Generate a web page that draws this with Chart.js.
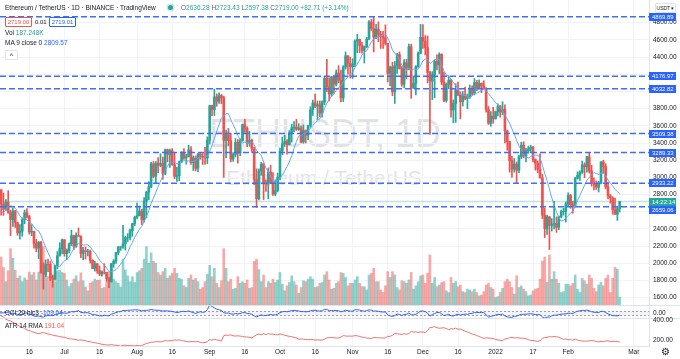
<!DOCTYPE html>
<html>
<head>
<meta charset="utf-8">
<title>ETHUSDT 1D</title>
<script src="https://cdn.jsdelivr.net/npm/chart.js@4.4.1/dist/chart.umd.min.js"></script>
<style>
  html, body { margin: 0; padding: 0; background: #fff; }
  #wrap { position: relative; width: 680px; height: 359px; overflow: hidden; font-family: "Liberation Sans", Arial, sans-serif; color: #131722; }
  #chart { position: absolute; left: 0; top: 0; z-index: 1; }
  .wm { position: absolute; z-index: 0; white-space: nowrap; color: rgba(120,123,134,0.22); line-height: 1; }
  #wm1 { left: 325px; top: 113px; font-size: 40px; transform: translateX(-50%) scaleX(0.9); }
  #wm2 { left: 324px; top: 167px; font-size: 21px; transform: translateX(-50%); }
  .lg { position: absolute; z-index: 2; white-space: nowrap; font-size: 6.5px; line-height: 8px; }
  .up { color: #26a69a; }
  .k { color: #5d606b; }
  .box { position: absolute; z-index: 2; height: 8px; line-height: 8px; font-size: 6px; text-align: center; border: 1px solid; border-radius: 1px; background: #fff; }
  .dot { position: absolute; z-index: 2; width: 5px; height: 5px; border-radius: 50%; background: #26a69a; box-shadow: 0 0 0 1.5px rgba(38,166,154,0.25); }
</style>
</head>
<body>
<div id="wrap">
  <div class="wm" id="wm1">ETHUSDT, 1D</div>
  <div class="wm" id="wm2">Ethereum / TetherUS</div>
  <canvas id="chart" width="680" height="359"></canvas>

  <div class="lg" style="left:5px;top:4px;">Ethereum / TetherUS · 1D · BINANCE · TradingView</div>
  <div class="dot" style="left:168px;top:5px;"></div>
  <div class="lg" style="left:181px;top:4px;"><span class="k">O</span><span class="up">2636.28</span> <span class="k">H</span><span class="up">2723.43</span> <span class="k">L</span><span class="up">2597.38</span> <span class="k">C</span><span class="up">2719.00 +82.71 (+3.14%)</span></div>
  <div class="box" style="left:5px;top:17px;width:25px;color:#ef5350;border-color:#ef5350;">2719.00</div>
  <div class="lg" style="left:35px;top:18px;font-size:6px;">0.01</div>
  <div class="box" style="left:49px;top:17px;width:25px;color:#2962ff;border-color:#2962ff;">2719.01</div>
  <div class="lg" style="left:5px;top:29px;">Vol <span class="up">187.248K</span></div>
  <div class="lg" style="left:5px;top:39px;">MA 9 close 0 <span style="color:#2962ff;">2809.57</span></div>
  <div class="box" style="left:5px;top:50px;width:11px;color:#131722;border-color:#e0e3eb;font-size:7px;line-height:10px;">^</div>
  <div class="lg" style="left:5px;top:309px;">CCI 20 hlc3 <span style="color:#2962ff;">-109.04</span></div>
  <div class="lg" style="left:5px;top:322px;">ATR 14 RMA <span style="color:#ef5350;">191.04</span></div>
  <div class="box" style="left:655px;top:3px;width:19px;color:#131722;border-color:#e0e3eb;font-size:5px;">USDT ▾</div>
  <div class="lg" style="left:661px;top:347px;font-size:10px;line-height:10px;color:#131722;">⚙</div>
</div>

<script>
// ---- categories: one per day; the first 20 days only warm up the indicators ----
const firstDay = '2021-05-15';
const firstShown = '2021-06-04';
const lastDay = '2022-03-07';

const days = [];
for (let t = Date.parse(firstDay); t <= Date.parse(lastDay); t += 864e5) {
  days.push(new Date(t).toISOString().slice(0, 10));
}

// ---- ETHUSDT daily candles (May 15 2021 .. Feb 23 2022) ----
const opens = [
  4075,3640,3585,3280,3380,2440,2780,2430,2300,2100,2640,2710,2885,2740,2420,2280,2390,2710,2630,2710,
  // Jun 4..30
  2856,2689,2630,2711,2592,2509,2610,2472,2354,2373,2509,2589,2546,2364,2373,2230,2176,2246,1889,1874,1989,1988,1830,1815,1976,2088,2170,
  // Jul
  2275,2112,2150,2228,2322,2197,2323,2316,2115,2147,2138,2140,2035,1940,1994,1916,1875,1897,1894,1819,1788,1994,2026,2124,2188,2190,2227,2300,2300,2380,2462,
  // Aug
  2535,2555,2608,2506,2725,2827,2890,3157,3013,3163,3141,3164,3047,3322,3266,3310,3148,3012,3018,3180,3285,3226,3242,3320,3172,3225,3106,3272,3243,3230,3225,
  // Sep
  3433,3834,3788,3937,3887,3952,3927,3431,3497,3427,3212,3266,3408,3285,3429,3615,3570,3397,3432,3330,2977,2753,3077,3155,2930,2922,3062,2934,2807,2849,
  // Oct
  3001,3308,3391,3418,3381,3518,3578,3587,3560,3575,3413,3546,3492,3605,3787,3866,3829,3845,3746,3876,4155,4055,3970,4170,4085,4215,4130,3925,4285,4415,4325,
  // Nov
  4288,4320,4585,4605,4535,4477,4520,4610,4807,4730,4630,4725,4665,4645,4625,4560,4210,4285,3995,4300,4430,4265,4085,4335,4270,4520,4040,4095,4290,4445,
  // Dec
  4630,4585,4510,4220,4120,4195,4350,4310,4430,4110,3895,4080,4130,3785,3860,4020,3960,3880,3960,3920,3940,4020,3980,4105,4045,4095,4065,4035,3790,3630,3710,
  // Jan
  3680,3765,3830,3760,3790,3540,3415,3195,3095,3155,3085,3240,3375,3250,3310,3330,3350,3210,3165,3095,2995,2560,2405,2540,2440,2455,2465,2420,2545,2600,2605,
  // Feb
  2690,2790,2680,2665,2990,3025,3060,3145,3125,3240,3075,2930,2920,2885,2930,3180,3125,2890,2785,2760,2625,2570,2636
];
const highs = [
  4140,3880,3600,3560,3440,2990,2940,2480,2380,2660,2750,2910,2890,2760,2570,2450,2715,2740,2745,2890,
  2857,2817,2743,2845,2620,2640,2616,2480,2450,2525,2620,2636,2558,2450,2375,2278,2255,2255,2006,2040,2050,2026,1862,1980,2137,2240,2283,
  2275,2168,2238,2386,2328,2355,2412,2320,2186,2190,2164,2155,2044,2023,2000,1970,1912,1995,1896,1838,2000,2043,2129,2198,2196,2442,2316,2345,2399,2467,2549,
  2700,2666,2630,2764,2840,2950,3174,3185,3185,3230,3275,3235,3330,3330,3330,3335,3290,3120,3190,3300,3336,3270,3375,3358,3250,3250,3280,3283,3278,3350,3472,
  3840,3840,4027,3972,3985,3966,3945,3551,3570,3511,3290,3451,3440,3450,3620,3677,3590,3537,3445,3350,3100,3100,3175,3165,2972,3110,3140,3056,2972,3050,
  3340,3470,3490,3440,3545,3618,3650,3675,3625,3600,3611,3553,3608,3822,3900,3970,3890,3890,3890,4175,4375,4160,4175,4185,4250,4300,4250,4300,4460,4415,4400,
  4380,4600,4665,4610,4573,4530,4630,4825,4838,4868,4780,4810,4700,4700,4775,4560,4295,4340,4350,4445,4460,4290,4370,4375,4550,4550,4180,4300,4460,4780,
  4778,4650,4645,4235,4230,4365,4425,4450,4440,4225,4100,4180,4140,3900,4090,4110,3995,4000,4050,3970,4075,4065,4150,4130,4135,4100,4125,4045,3825,3765,3815,
  3770,3855,3838,3880,3845,3550,3420,3245,3220,3180,3260,3410,3415,3340,3365,3375,3360,3215,3190,3275,3035,2640,2560,2545,2520,2720,2540,2550,2620,2640,2715,
  2820,2805,2720,3000,3065,3075,3190,3170,3245,3285,3140,2995,2960,2955,3185,3200,3160,2945,2800,2775,2760,2660,2723
];
const lows = [
  3620,3300,3110,3250,1900,2170,2110,2160,1730,2090,2390,2700,2650,2340,2230,2170,2310,2520,2580,2690,
  2560,2558,2616,2581,2321,2430,2418,2325,2280,2315,2460,2524,2340,2320,2175,2135,2055,1888,1700,1845,1904,1800,1721,1805,1936,2083,2110,
  2082,2042,2120,2206,2160,2185,2311,2065,2042,2051,2087,2003,1938,1908,1883,1856,1851,1875,1790,1718,1781,1953,1999,2100,2150,2172,2153,2254,2271,2315,2438,
  2516,2552,2450,2479,2529,2740,2880,2996,2940,3055,3123,2980,3030,3180,3115,3140,2985,2953,2960,3170,3210,3153,3238,3150,3080,3075,3066,3210,3150,3152,3160,
  3386,3717,3720,3828,3860,3857,3000,3227,3370,3180,3185,3237,3166,3253,3420,3523,3357,3361,3290,2915,2651,2739,3025,2742,2836,2750,2930,2791,2785,2831,
  2970,3263,3360,3270,3375,3410,3530,3545,3548,3400,3397,3400,3440,3585,3721,3812,3675,3707,3700,3845,3996,3890,3945,3980,4063,4100,3878,3882,4260,4200,4155,
  4150,4285,4450,4450,4445,4330,4510,4600,4710,4460,4615,4580,4500,4500,4540,4110,4065,3950,3860,4210,4260,4060,4040,4150,4250,3920,4035,3960,4280,4440,
  4500,4425,4100,3500,3905,3925,4250,4205,4080,3882,3875,4030,3700,3635,3640,3950,3680,3830,3900,3800,3920,3955,3960,4010,4040,3985,4030,3760,3615,3595,3630,
  3680,3715,3700,3730,3400,3315,3060,3000,3060,2930,3055,3220,3225,3180,3280,3285,3180,3085,3055,2990,2520,2300,2335,2160,2375,2400,2360,2390,2530,2560,2480,
  2670,2640,2585,2650,2980,2965,3045,2995,3060,3050,2900,2855,2860,2830,2925,3055,2865,2750,2700,2570,2570,2500,2597
];
const closes = [
  3640,3585,3280,3380,2440,2780,2430,2300,2100,2640,2710,2885,2740,2420,2280,2390,2710,2630,2710,2856,
  2689,2630,2711,2592,2509,2610,2472,2354,2373,2509,2589,2546,2364,2373,2230,2176,2246,1889,1874,1989,1988,1830,1815,1976,2088,2170,2275,
  2112,2150,2228,2322,2197,2323,2316,2115,2147,2138,2140,2035,1940,1994,1916,1875,1897,1894,1819,1788,1994,2026,2124,2188,2190,2227,2300,2300,2380,2462,2535,
  2555,2608,2506,2725,2827,2890,3157,3013,3163,3141,3164,3047,3322,3266,3310,3148,3012,3018,3180,3285,3226,3242,3320,3172,3225,3106,3272,3243,3230,3225,3433,
  3834,3788,3937,3887,3952,3927,3431,3497,3427,3212,3266,3408,3285,3429,3615,3570,3397,3432,3330,2977,2753,3077,3155,2930,2922,3062,2934,2807,2849,3001,
  3308,3391,3418,3381,3518,3578,3587,3560,3575,3413,3546,3492,3605,3787,3866,3829,3845,3746,3876,4155,4055,3970,4170,4085,4215,4130,3925,4285,4415,4325,4288,
  4320,4585,4605,4535,4477,4520,4610,4807,4730,4630,4725,4665,4645,4625,4560,4210,4285,3995,4300,4430,4265,4085,4335,4270,4520,4040,4095,4290,4445,4630,
  4585,4510,4220,4120,4195,4350,4310,4430,4110,3895,4080,4130,3785,3860,4020,3960,3880,3960,3920,3940,4020,3980,4105,4045,4095,4065,4035,3790,3630,3710,3680,
  3765,3830,3760,3790,3540,3415,3195,3095,3155,3085,3240,3375,3250,3310,3330,3350,3210,3165,3095,2995,2560,2405,2540,2440,2455,2465,2420,2545,2600,2605,2690,
  2790,2680,2665,2990,3025,3060,3145,3125,3240,3075,2930,2920,2885,2930,3180,3125,2890,2785,2760,2625,2570,2636,2719
];
// volume in thousands of ETH (warm-up days not shown)
const volumes = [
  null,null,null,null,null,null,null,null,null,null,null,null,null,null,null,null,null,null,null,null,
  1150,900,560,820,1350,1120,830,640,700,560,650,600,790,720,780,600,790,1380,1400,950,680,780,720,560,820,830,780,
  760,600,440,520,620,700,560,770,580,430,340,520,560,620,590,600,400,420,560,800,1000,620,560,520,430,1100,840,700,560,680,540,
  780,820,880,1100,1400,1000,1250,1050,1000,780,720,800,880,640,700,760,880,760,640,620,460,420,640,720,600,640,560,380,420,560,740,
  950,680,880,520,420,580,1350,880,560,620,380,400,680,520,560,520,600,400,420,1050,1100,850,560,720,420,560,520,620,540,600,
  780,500,340,460,540,700,560,480,280,420,580,560,620,680,620,420,440,520,540,720,800,600,380,400,520,560,780,760,660,460,520,
  520,600,680,520,440,440,360,720,760,880,560,560,360,300,460,800,660,800,720,420,360,580,560,520,600,780,380,460,560,700,
  720,520,760,1200,520,660,440,480,540,560,340,300,660,520,560,440,480,320,300,380,360,320,380,300,220,240,320,480,520,420,380,
  180,200,300,400,560,620,560,420,260,700,420,460,380,320,220,240,340,380,400,620,1050,1150,540,1200,620,800,620,520,300,320,500,
  500,460,520,720,380,300,640,580,500,720,640,400,320,480,540,460,640,720,300,640,900,860,187
];

// horizontal levels drawn on the chart, and the live price
const levels = [4869.89, 4176.97, 4032.82, 3509.38, 3289.33, 2933.22, 2659.06];
const lastPrice = 2719.00;
const countdown = '14:22:14';

// axis ticks
const priceTicks = [1600,1800,2000,2200,2400,2600,2800,3000,3200,3400,3600,3800,4000,4200,4400,4600,4800];
const tickDates = ['2021-06-16','2021-07-01','2021-07-16','2021-08-01','2021-08-16','2021-09-01','2021-09-16','2021-10-01','2021-10-16',
                   '2021-11-01','2021-11-16','2021-12-01','2021-12-16','2022-01-01','2022-01-17','2022-02-01','2022-03-01'];
const tickText = ['16','Jul','16','Aug','16','Sep','16','Oct','16','Nov','16','Dec','16','2022','17','Feb','Mar'];
const cciBand = [-100, 100];
const atrTicks = [200, 400];

// ---- indicators, as TradingView defines them ----
const sma = (arr, n, i) => {
  let s = 0;
  for (let k = i - n + 1; k <= i; k++) s += arr[k];
  return s / n;
};
const ma9 = closes.map((c, i) => (i < 8 ? null : sma(closes, 9, i)));

const typical = highs.map((h, i) => (h + lows[i] + closes[i]) / 3);
const cci = typical.map((v, i) => {
  if (i < 19) return null;
  const m = sma(typical, 20, i);
  let dev = 0;
  for (let k = i - 19; k <= i; k++) dev += Math.abs(typical[k] - m);
  return (v - m) / (0.015 * (dev / 20));
});

const trueRange = highs.map((h, i) => i === 0 ? h - lows[i]
  : Math.max(h - lows[i], Math.abs(h - closes[i - 1]), Math.abs(lows[i] - closes[i - 1])));
const atr = [];
trueRange.forEach((t, i) => {
  if (i < 13) atr.push(null);
  else if (i === 13) atr.push(sma(trueRange, 14, 13));
  else atr.push((atr[i - 1] * 13 + t) / 14);
});

// ---- colours ----
const UP = '#26a69a', DOWN = '#ef5350';
const candleColors = closes.map((c, i) => (c >= opens[i] ? UP : DOWN));
const volColors = closes.map((c, i) => (c >= opens[i] ? 'rgba(38,166,154,0.5)' : 'rgba(239,83,80,0.5)'));

// ---- pane layout (pixels inside the plot area) ----
const plotH = 346;
// linear range for an axis that spans the whole plot, given two value/pixel pairs
function axisRange(v1, p1, v2, p2) {
  const k = (v1 - v2) / (p2 - p1);
  const max = v1 + p1 * k;
  return { min: max - plotH * k, max };
}
const priceRange = axisRange(4800, 22.7, 1600, 297.7);
const volRange = axisRange(0, 305, 1000, 263.3);
const cciRange = axisRange(0, 313, 100, 311);
const atrRange = axisRange(400, 320, 200, 340);
const paneLines = [305, 318];

const tickIdx = tickDates.map(d => days.indexOf(d));

function drawBadge(ctx, x, y, w, bg, text) {
  const top = Math.round(y - 4);
  ctx.fillStyle = bg;
  ctx.fillRect(x, top, w, 8);
  ctx.fillStyle = '#fff';
  ctx.font = '6px "Liberation Sans", Arial, sans-serif';
  ctx.textAlign = 'left';
  ctx.textBaseline = 'middle';
  ctx.fillText(text, x + 3, top + 4.3);
}

const tvOverlay = {
  id: 'tvOverlay',
  beforeDatasetsDraw(chart) {
    const { ctx, chartArea: a, scales } = chart;
    const yc = scales.yCci;
    const t = yc.getPixelForValue(cciBand[1]);
    const b = yc.getPixelForValue(cciBand[0]);
    ctx.save();
    ctx.fillStyle = 'rgba(126,87,194,0.08)';
    ctx.fillRect(a.left, t, a.width, b - t);
    ctx.strokeStyle = 'rgba(120,123,134,0.7)';
    ctx.lineWidth = 1;
    ctx.setLineDash([2, 2]);
    [t, b].forEach(y => {
      ctx.beginPath();
      ctx.moveTo(a.left, Math.round(y) + 0.5);
      ctx.lineTo(a.right, Math.round(y) + 0.5);
      ctx.stroke();
    });
    ctx.restore();
  },
  afterDatasetsDraw(chart) {
    const { ctx, chartArea: a, scales } = chart;
    const yp = scales.y;
    ctx.save();
    // pane separators
    ctx.strokeStyle = '#e0e3eb';
    ctx.lineWidth = 1;
    paneLines.forEach(y => {
      ctx.beginPath();
      ctx.moveTo(0, y + 0.5);
      ctx.lineTo(chart.width, y + 0.5);
      ctx.stroke();
    });
    // live price line
    const yl = yp.getPixelForValue(lastPrice);
    ctx.strokeStyle = 'rgba(38,166,154,0.3)';
    ctx.lineWidth = 1.5;
    ctx.beginPath();
    ctx.moveTo(a.left, yl);
    ctx.lineTo(a.right, yl);
    ctx.stroke();
    // horizontal levels
    ctx.strokeStyle = '#3f6ff2';
    ctx.lineWidth = 1.5;
    ctx.setLineDash([6, 3]);
    levels.forEach(v => {
      const y = yp.getPixelForValue(v);
      ctx.beginPath();
      ctx.moveTo(a.left, y);
      ctx.lineTo(a.right, y);
      ctx.stroke();
    });
    ctx.setLineDash([]);
    // badges on the price axis; a level badge that would hide the live price badge is pushed aside
    levels.forEach(v => {
      let y = yp.getPixelForValue(v);
      if (Math.abs(y - yl) < 8) y = y > yl ? yl + 8 : yl - 8;
      drawBadge(ctx, a.right, y, 27, '#2962ff', v.toFixed(2));
    });
    drawBadge(ctx, a.right, yl, 27, UP, countdown);
    // indicator pane axis labels
    ctx.fillStyle = '#131722';
    ctx.font = '6.5px "Liberation Sans", Arial, sans-serif';
    ctx.textBaseline = 'middle';
    ctx.fillText('0.00', a.right + 4, scales.yCci.getPixelForValue(0));
    atrTicks.forEach(v => ctx.fillText(v.toFixed(2), a.right + 4, scales.yAtr.getPixelForValue(v)));
    ctx.restore();
  }
};

const hidden = r => ({ display: false, min: r.min, max: r.max });

new Chart(document.getElementById('chart'), {
  type: 'bar',
  data: {
    labels: days,
    datasets: [
      { type: 'bar', data: volumes, yAxisID: 'yVol', backgroundColor: volColors, barThickness: 2, grouped: false, order: 5 },
      { type: 'bar', data: highs.map((h, i) => [lows[i], h]), yAxisID: 'y', backgroundColor: candleColors, barThickness: 1, grouped: false, order: 3 },
      { type: 'bar', data: opens.map((o, i) => [o, closes[i]]), yAxisID: 'y', backgroundColor: candleColors, barThickness: 2, grouped: false, order: 2 },
      { type: 'line', data: ma9, yAxisID: 'y', borderColor: '#64a8f0', borderWidth: 1, pointRadius: 0, order: 1 },
      { type: 'line', data: cci, yAxisID: 'yCci', borderColor: '#2962ff', borderWidth: 1, pointRadius: 0, order: 1 },
      { type: 'line', data: atr, yAxisID: 'yAtr', borderColor: '#ef6f6c', borderWidth: 1, pointRadius: 0, order: 1 }
    ]
  },
  options: {
    responsive: false,
    animation: false,
    devicePixelRatio: 1,
    layout: { padding: 0 },
    plugins: { legend: { display: false }, tooltip: { enabled: false } },
    scales: {
      x: {
        type: 'category',
        min: firstShown,
        max: lastDay,
        offset: true,
        grid: { offset: false, color: '#f0f3fa', drawTicks: false },
        border: { color: '#e0e3eb' },
        ticks: {
          autoSkip: false, maxRotation: 0, padding: 2, color: '#131722',
          font: { size: 6.5, family: '"Liberation Sans", Arial, sans-serif' },
          callback: v => { const k = tickIdx.indexOf(v); return k >= 0 ? tickText[k] : ''; }
        },
        afterBuildTicks: s => { s.ticks = tickIdx.map(v => ({ value: v })); },
        afterFit: s => { s.height = 13; s.paddingLeft = 0; s.paddingRight = 0; }
      },
      y: {
        position: 'right',
        min: priceRange.min,
        max: priceRange.max,
        grid: { color: '#f0f3fa', drawTicks: false },
        border: { color: '#e0e3eb' },
        ticks: {
          padding: 4, color: '#131722',
          font: { size: 6.5, family: '"Liberation Sans", Arial, sans-serif' },
          callback: v => (levels.some(l => Math.abs(l - v) < 62) ? '' : v.toFixed(2))
        },
        afterBuildTicks: s => { s.ticks = priceTicks.map(v => ({ value: v })); },
        afterFit: s => { s.width = 31; s.paddingTop = 0; s.paddingBottom = 0; }
      },
      yVol: hidden(volRange),
      yCci: hidden(cciRange),
      yAtr: hidden(atrRange)
    }
  },
  plugins: [tvOverlay]
});
</script>
</body>
</html>
